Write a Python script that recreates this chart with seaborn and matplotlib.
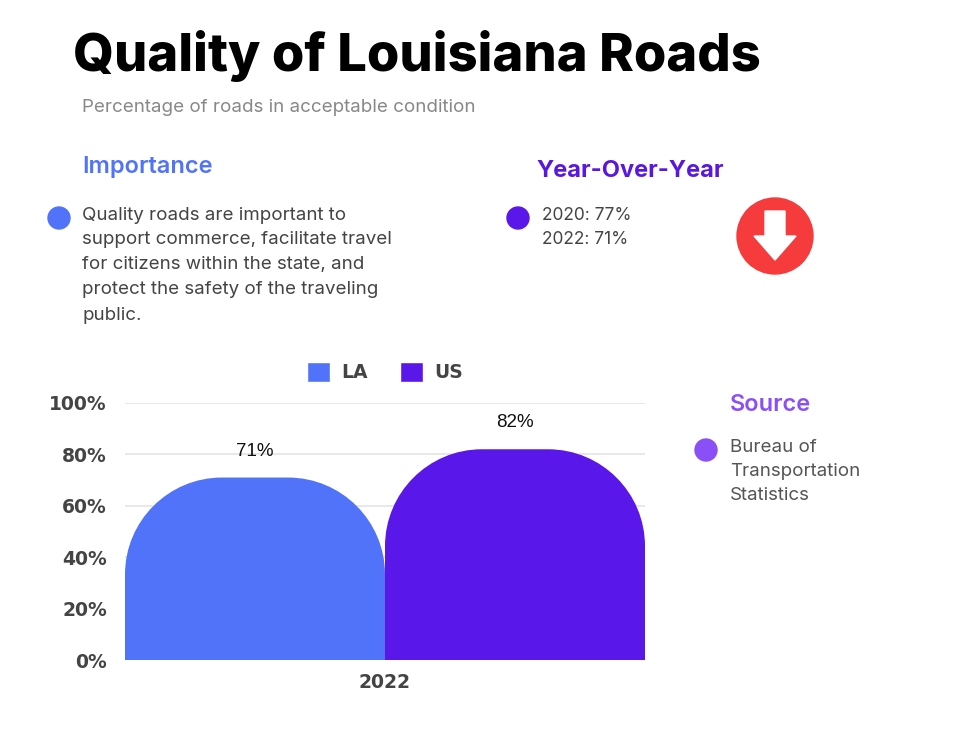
import numpy as np
import pandas as pd
import matplotlib
matplotlib.use("Agg")
import matplotlib.pyplot as plt
import seaborn as sns
from matplotlib.path import Path
from matplotlib.patches import PathPatch, Circle, Polygon

# ---------------- data ----------------
years = ["2022"]
regions = ["LA", "US"]
values = [71, 82]
value_labels = ["71%", "82%"]
yticks = [0, 20, 40, 60, 80, 100]
ytick_labels = ["0%", "20%", "40%", "60%", "80%", "100%"]
bar_colors = ["#5073FA", "#5A17EA"]

title = "Quality of Louisiana Roads"
subtitle = "Percentage of roads in acceptable condition"
importance_head = "Importance"
importance_lines = ["Quality roads are important to",
                    "support commerce, facilitate travel",
                    "for citizens within the state, and",
                    "protect the safety of the traveling",
                    "public."]
yoy_head = "Year-Over-Year"
yoy_lines = ["2020: 77%", "2022: 71%"]
source_head = "Source"
source_lines = ["Bureau of", "Transportation", "Statistics"]

# ---------------- style ----------------
sns.set_theme(style="white")
plt.rcParams['font.family'] = ['Inter', 'DejaVu Sans']

W, H = 975, 731
fig = plt.figure(figsize=(W / 100, H / 100), dpi=100)

# overlay axes in pixel coordinates for decorations
ov = fig.add_axes([0, 0, 1, 1], zorder=0)
ov.set_xlim(0, W)
ov.set_ylim(H, 0)
ov.axis("off")

ax_l, ax_r, ax_t, ax_b = 125, 645, 403, 660
ax = fig.add_axes([ax_l / W, 1 - ax_b / H, (ax_r - ax_l) / W, (ax_b - ax_t) / H], zorder=2)
ax.patch.set_alpha(0)

df = pd.DataFrame({"year": years * len(regions), "region": regions, "value": values})
sns.barplot(data=df, x="year", y="value", hue="region", palette=bar_colors,
            width=0.8, saturation=1, ax=ax, errorbar=None)
ax.set_xlim(-0.4, 0.4)
ax.set_ylim(0, 100)

# rounded tops
r_px = 97
px_x = (ax_r - ax_l) / 0.8
px_y = (ax_b - ax_t) / 100.0
rx = r_px / px_x
ry = r_px / px_y
k = 0.5523
bars = [p for p in ax.patches]
for p in bars:
    x0 = p.get_x(); w = p.get_width(); h = p.get_height(); x1 = x0 + w
    fc = p.get_facecolor()
    verts = [(x0, 0), (x0, h - ry),
             (x0, h - ry + k * ry), (x0 + rx - k * rx, h), (x0 + rx, h),
             (x1 - rx, h),
             (x1 - rx + k * rx, h), (x1, h - ry + k * ry), (x1, h - ry),
             (x1, 0), (x0, 0)]
    codes = [Path.MOVETO, Path.LINETO,
             Path.CURVE4, Path.CURVE4, Path.CURVE4,
             Path.LINETO,
             Path.CURVE4, Path.CURVE4, Path.CURVE4,
             Path.LINETO, Path.CLOSEPOLY]
    ax.add_patch(PathPatch(Path(verts, codes), facecolor=fc,
                           edgecolor="none", zorder=3))
    p.set_visible(False)

for p, lab in zip(bars, value_labels):
    ax.text(p.get_x() + p.get_width() / 2, p.get_height() + 7, lab,
            ha="center", va="bottom", fontsize=13.5, color="#111111",
            family=["Liberation Sans", "DejaVu Sans"])

ax.set_yticks(yticks)
ax.set_yticklabels(ytick_labels)
ax.yaxis.grid(True, color="#e6e6e6", lw=1.3)
ax.set_axisbelow(True)
for s in ax.spines.values():
    s.set_visible(False)
ax.tick_params(axis="both", length=0, labelsize=13.5, labelcolor="#444444")
ax.tick_params(axis="y", pad=13)
ax.tick_params(axis="x", pad=9)
for t in ax.get_yticklabels() + ax.get_xticklabels():
    t.set_fontweight("bold")
    t.set_family(["DejaVu Sans"])
ax.set_xlabel("")
ax.set_ylabel("")

sns.move_legend(ax, "center", bbox_to_anchor=(0.5, (ax_b - 372) / (ax_b - ax_t)),
                ncol=2, frameon=False, title=None, fontsize=13.5,
                handlelength=1.25, handleheight=1.25, handletextpad=0.6,
                columnspacing=1.7)
for t in ax.get_legend().get_texts():
    t.set_fontweight("bold")
    t.set_color("#444444")
    t.set_family(["DejaVu Sans"])

# ---------------- text & decorations ----------------
def txt(x, y, s, **kw):
    ov.text(x, y, s, va="center", ha="left", **kw)

txt(73, 56, title, fontsize=37.7, fontweight="heavy", color="#000000")
txt(82, 107, subtitle, fontsize=13.5, color="#888888")

txt(82, 167, importance_head, fontsize=17, fontweight="semibold", color="#5073FA")
ov.add_patch(Circle((59, 218), 11, color="#5073FA"))
for i, line in enumerate(importance_lines):
    txt(82, 215 + 25 * i, line, fontsize=13.5, color="#444444")

txt(536, 171, yoy_head, fontsize=17, fontweight="bold", color="#5A17E0")
ov.add_patch(Circle((518, 218), 11, color="#5A17EA"))
for i, line in enumerate(yoy_lines):
    txt(542, 215 + 25 * i, line, fontsize=12.5, color="#444444")

ov.add_patch(Circle((775, 236), 38, color="#F53B3B"))
ov.add_patch(Polygon([(765, 211), (785, 211), (785, 236), (796, 236), (775, 260),
                      (754, 236), (765, 236)], closed=True, color="white"))

txt(730, 405, source_head, fontsize=17, fontweight="semibold", color="#8A4FF7")
ov.add_patch(Circle((706, 450), 11, color="#8A4FF7"))
for i, line in enumerate(source_lines):
    txt(730, 447 + 24.5 * i, line, fontsize=13.5, color="#555555")

fig.savefig("out.png", dpi=100)
